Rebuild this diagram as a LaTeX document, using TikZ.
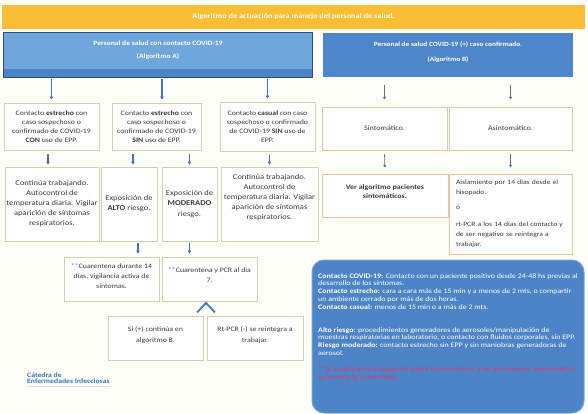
\documentclass[tikz,border=0pt]{standalone}
\usepackage{fontspec}
\setmainfont{Carlito}[FakeStretch=1.15]
\usetikzlibrary{arrows.meta,calc}

\definecolor{pagecream}{HTML}{FEFEF8}
\definecolor{bannergold}{HTML}{F9BE33}
\definecolor{headA}{HTML}{6FA7DC}
\definecolor{headAband}{HTML}{4B83C6}
\definecolor{headAedge}{HTML}{2A4E85}
\definecolor{headB}{HTML}{4E86CB}
\definecolor{boxolive}{HTML}{D3D1A9}
\definecolor{boxtan}{HTML}{EFC29E}
\definecolor{arrowblue}{HTML}{3F78BC}
\definecolor{arrowslate}{HTML}{5470A0}
\definecolor{legendblue}{HTML}{4D84C7}
\definecolor{alertred}{HTML}{E8336B}
\definecolor{logoblue}{HTML}{2E78C0}
\definecolor{inkgray}{HTML}{3A3A3A}

\tikzset{
  boxA/.style={draw=boxolive, line width=0.9pt, fill=white, align=center, inner sep=1pt, text=inkgray, font=\fontsize{6.8}{9}\selectfont},
  boxB/.style={boxA, draw=boxtan},
  header/.style={text=white, align=center, inner sep=0pt},
  arrA/.style={-{Triangle[width=3.6pt,length=3pt]}, line width=1.3pt, draw=arrowblue},
  arrB/.style={-{Triangle[width=3pt,length=2.6pt]}, line width=0.8pt, draw=arrowslate},
  chevron/.style={line width=1.8pt, draw=arrowblue},
  legend/.style={fill=legendblue, draw=legendblue!75!white, line width=1pt, rounded corners=12pt, text=white, align=left, inner sep=0pt, font=\fontsize{6.9}{7.7}\selectfont}
}

\begin{document}
\begin{tikzpicture}[x=1pt,y=-1pt]
        \useasboundingbox (0,0) rectangle (588,414);
        \fill[pagecream] (0,0) rectangle (588,414);

        \coordinate (ban) at (293.5,17);
        \coordinate (hAc) at (158,55);
        \coordinate (hBc) at (448,55);

        % algoritmo A
        \coordinate (a1c) at (51.5,126.5);
        \coordinate (a2c) at (156.5,126.5);
        \coordinate (a3c) at (267.5,126.5);
        \coordinate (b1c) at (52,204);
        \coordinate (b2c) at (129,204);
        \coordinate (b3c) at (189.5,204);
        \coordinate (b4c) at (269.5,204);
        \coordinate (c1c) at (111.5,279);
        \coordinate (c2c) at (209.5,279);
        \coordinate (d1c) at (155.5,338);
        \coordinate (d2c) at (255,338);

        % algoritmo B
        \coordinate (r1c) at (384.5,128.5);
        \coordinate (r2c) at (510.5,128.5);
        \coordinate (s1c) at (385,195.5);
        \coordinate (s2c) at (510.5,214);

        \node[header,fill=bannergold,minimum width=583pt,minimum height=24pt,font=\bfseries\fontsize{7.2}{9}\selectfont] (banner) at (ban) {Algoritmo de actuación para manejo del personal de salud.};

        \node[header,fill=headA,minimum width=308pt,minimum height=44pt,font=\bfseries\fontsize{6.6}{10}\selectfont] (hA) at (hAc) {Personal de salud con contacto COVID-19\\[3pt](Algoritmo A)\rule[-10pt]{0pt}{0pt}};
        \fill[headAband] ([yshift=8pt]hA.south west) rectangle (hA.south east);
        \draw[headAedge,line width=0.8pt] (hA.north west) rectangle (hA.south east);

        \node[header,fill=headB,minimum width=250pt,minimum height=44pt,font=\bfseries\fontsize{6.4}{9}\selectfont] (hB) at (hBc) {Personal de salud COVID-19 (+) caso confirmado.\\[6pt](Algoritmo B)\rule[-6pt]{0pt}{0pt}};

        \node[boxA,minimum width=95pt,minimum height=47pt] (a1) at (a1c) {Contacto \textbf{estrecho} con\\caso sospechoso o\\confirmado de COVID-19\\\textbf{CON} uso de EPP.};
        \node[boxA,minimum width=89pt,minimum height=47pt] (a2) at (a2c) {Contacto \textbf{estrecho} con\\caso sospechoso o\\confirmado de COVID-19\\\textbf{SIN} uso de EPP.};
        \node[boxA,minimum width=95pt,minimum height=49pt] (a3) at (a3c) {Contacto \textbf{casual} con caso\\sospechoso o confirmado\\de COVID-19 \textbf{SIN} uso de\\EPP.};

        \node[boxA,minimum width=94pt,minimum height=74pt,font=\fontsize{7.4}{10}\selectfont] (b1) at (b1c) {Continúa trabajando.\\Autocontrol de\\temperatura diaria. Vigilar\\aparición de síntomas\\respiratorios.};
        \node[boxA,minimum width=56pt,minimum height=74pt,font=\fontsize{7.4}{10}\selectfont] (b2) at (b2c) {Exposición de\\\textbf{ALTO} riesgo.};
        \node[boxA,minimum width=55pt,minimum height=74pt,font=\fontsize{7.4}{10.5}\selectfont] (b3) at (b3c) {Exposición de\\\textbf{MODERADO}\\riesgo.};
        \node[boxA,minimum width=97pt,minimum height=74pt,font=\fontsize{7.4}{10}\selectfont] (b4) at (b4c) {Continúa trabajando.\\Autocontrol de\\temperatura diaria. Vigilar\\aparición de síntomas\\respiratorios.\rule[-14pt]{0pt}{0pt}};

        \node[boxA,minimum width=95pt,minimum height=44pt,font=\fontsize{6.8}{10}\selectfont] (c1) at (c1c) {\textcolor{alertred}{**}Cuarentena durante 14\\días, vigilancia activa de\\síntomas.\rule[-6pt]{0pt}{0pt}};
        \node[boxA,minimum width=95pt,minimum height=44pt,font=\fontsize{6.8}{10}\selectfont] (c2) at (c2c) {\textcolor{alertred}{**}Cuarentena y PCR al día\\7.\rule[-8pt]{0pt}{0pt}};

        \node[boxA,minimum width=95pt,minimum height=44pt,font=\fontsize{6.8}{11}\selectfont] (d1) at (d1c) {Si (+) continúa en\\algoritmo B.\rule[-6pt]{0pt}{0pt}};
        \node[boxA,minimum width=96pt,minimum height=44pt,font=\fontsize{6.8}{11}\selectfont] (d2) at (d2c) {Rt-PCR (-) se reintegra a\\trabajar.\rule[-6pt]{0pt}{0pt}};

        \node[boxB,minimum width=125pt,minimum height=43pt,font=\fontsize{7}{9}\selectfont] (r1) at (r1c) {Sintomático.};
        \node[boxB,minimum width=123pt,minimum height=43pt,font=\fontsize{7}{9}\selectfont] (r2) at (r2c) {Asintomático.};
        \node[boxB,minimum width=126pt,minimum height=43pt,font=\bfseries\fontsize{6.9}{9}\selectfont] (s1) at (s1c) {Ver algoritmo pacientes\\sintomáticos.\rule[-7pt]{0pt}{0pt}};
        \node[boxB,minimum width=123pt,minimum height=80pt,align=left,text width=109pt,inner xsep=7pt,font=\fontsize{6.6}{10}\selectfont] (s2) at (s2c) {Aislamiento por 14 días desde el\\hisopado.\\[5pt]ó\\[7pt]rt-PCR a los 14 días del contacto y\\de ser negativo se reintegra a\\trabajar.};

        % flechas algoritmo A
        \coordinate (a2in) at ($(a2.north)+(5.5,0)$);
        \coordinate (b1in) at ($(b1.north)+(-4,0)$);
        \coordinate (b2in) at ($(b2.north)+(4,0)$);
        \coordinate (b2out) at ($(b2.south)+(9,0)$);
        \draw[arrA,shorten <=2pt,shorten >=3pt] (hA.south -| a1.north) -- (a1.north);
        \draw[arrA,shorten <=2pt,shorten >=3pt] (hA.south -| a2in) -- (a2in);
        \draw[arrA,shorten <=2pt,shorten >=3pt] (hA.south -| a3.north) -- (a3.north);
        \draw[arrA,shorten <=4pt,shorten >=2pt] (a1.south -| b1in) -- (b1in);
        \draw[arrA,shorten <=4pt,shorten >=2pt] (a2.south -| b2in) -- (b2in);
        \draw[arrA,shorten <=4pt,shorten >=2pt] (a2.south -| b3.north) -- (b3.north);
        \draw[arrA,shorten <=4pt,shorten >=2pt] (a3.south -| b4.north) -- (b4.north);
        \draw[arrA,shorten <=2pt,shorten >=3pt] (b2out) -- (b2out |- c1.north);
        \draw[arrA,shorten <=2pt,shorten >=3pt] (b3.south) -- (b3.south |- c2.north);
        \draw[chevron] ($(c2.south)+(-12.5,11)$) -- ($(c2.south)+(-3.5,1.5)$) -- ($(c2.south)+(5.5,11)$);

        % flechas algoritmo B
        \draw[arrB,shorten <=8pt,shorten >=7pt] (hB.south -| r1.north) -- (r1.north);
        \draw[arrB,shorten <=8pt,shorten >=7pt] (hB.south -| r2.north) -- (r2.north);
        \draw[arrB,shorten <=4pt,shorten >=6pt] (r1.south) -- (s1.north);
        \draw[arrB,shorten <=4pt,shorten >=6pt] (r2.south) -- (r2.south |- s2.north);

        \node[legend,minimum width=272pt,minimum height=153pt] (leg) at (448,336.5) {\textbf{Contacto COVID-19:} Contacto con un paciente positivo desde 24-48 hs previas al\\
desarrollo de los síntomas.\\
\textbf{Contacto estrecho:} cara a cara más de 15 min y a menos de 2 mts, o compartir\\
un ambiente cerrado por más de dos horas.\\
\textbf{Contacto casual:} menos de 15 min o a más de 2 mts.\\[15.3pt]
\textbf{Alto riesgo}: procedimientos generadores de aerosoles/manipulación de\\
muestras respiratorias en laboratorio, o contacto con fluidos corporales, sin EPP.\\
\textbf{Riesgo moderado:} contacto estrecho sin EPP y sin maniobras generadoras de\\
aerosol.\\[9pt]
\textcolor{alertred}{**Si se descarta la sospecha sobre el caso índice, y de permanecer asintomático}\\
\textcolor{alertred}{se levanta la cuarentena.}\rule[-20pt]{0pt}{0pt}};

        \node[anchor=north west,inner sep=0pt,align=left,text=logoblue,font=\bfseries\fontsize{6.7}{5.8}\selectfont] (logo) at (27,373) {Cátedra de\\Enfermedades Infecciosas};
        \draw[logoblue!25!white,line width=1pt] ([yshift=-3pt]logo.south west) -- ([yshift=-3pt]logo.south east);
    \end{tikzpicture}
\end{document}
